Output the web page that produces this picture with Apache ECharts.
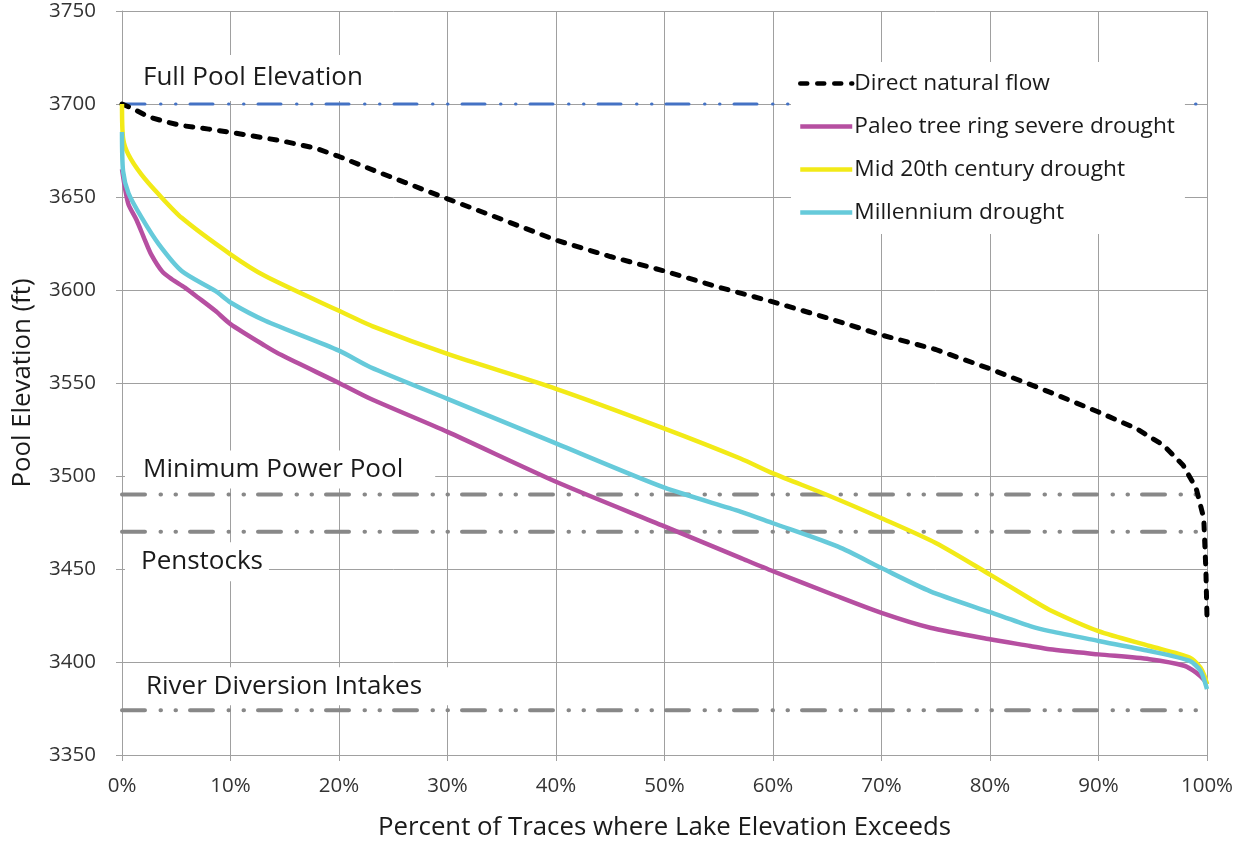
<!DOCTYPE html>
<html>
<head>
<meta charset="utf-8">
<script src="https://cdn.jsdelivr.net/npm/echarts@6/dist/echarts.min.js"></script>
<style>
html,body{margin:0;padding:0;background:#fff;}
#chart{width:1238px;height:846px;}
</style>
</head>
<body>
<div id="chart"></div>
<script>
// ---- Data ----
const seriesNames = ['Direct natural flow', 'Paleo tree ring severe drought', 'Mid 20th century drought', 'Millennium drought'];

const directX = [0, 1, 2.4, 4, 5.5, 8, 10, 14.7, 17.8, 20, 23.3, 26, 30, 35, 40, 45, 50, 55, 60, 65, 70, 75, 80, 85.5, 90, 93.5, 96, 97.8, 99, 99.7, 99.9, 100];
const directY = [3700, 3697.5, 3693.2, 3690.5, 3688.4, 3686.5, 3684.8, 3680.2, 3676.3, 3671.8, 3664.1, 3658, 3649, 3638, 3626.8, 3618, 3610.2, 3601.5, 3593.6, 3585, 3575.8, 3568, 3557.6, 3545.1, 3534.4, 3525.5, 3516.5, 3505.8, 3493.4, 3477.3, 3449, 3423.8];

const paleoX = [0, 0.3, 0.6, 1.35, 2.1, 2.7, 3.7, 4.6, 5.8, 7, 8.6, 10, 13.2, 14.7, 20, 22.9, 30, 40, 50, 57, 60, 65.5, 70, 74.5, 80, 83.7, 85.5, 90, 94.7, 97.9, 99, 99.8, 100];
const paleoY = [3665, 3654, 3646, 3637.5, 3627, 3619, 3610, 3605.8, 3601.3, 3596, 3588.8, 3581.7, 3570, 3565, 3550, 3541.5, 3523.7, 3496.9, 3472.9, 3456, 3448.8, 3436.3, 3426.4, 3418.4, 3412.2, 3408.6, 3406.8, 3404.1, 3401.5, 3398, 3394.3, 3390, 3388];

const mid20X = [0, 0.1, 0.6, 1.8, 3.4, 5.5, 10, 13.2, 20, 23.3, 30, 40, 50, 57, 60, 65, 70, 75, 80, 83.7, 85.5, 90, 94.7, 98.4, 99.4, 99.8, 100];
const mid20Y = [3700, 3681.6, 3672.7, 3662, 3651.3, 3638.8, 3619.2, 3607.5, 3588.8, 3580, 3565.6, 3546.9, 3525.5, 3509.4, 3501.4, 3489.8, 3477.3, 3464, 3447, 3434, 3428, 3416.6, 3408.6, 3402.4, 3397, 3392, 3388];

const millX = [0, 0.1, 0.6, 1.8, 3.4, 5.5, 8.6, 10, 13.2, 20, 22.9, 30, 40, 50, 57, 60, 66, 70, 74.5, 80, 83.7, 85.5, 90, 94.7, 98.4, 99.4, 100];
const millY = [3685, 3663.8, 3652, 3639, 3624.5, 3610.2, 3599.5, 3593.3, 3583.5, 3567.4, 3558.5, 3541.5, 3517.5, 3493.7, 3480.9, 3474.6, 3462, 3450.5, 3438, 3426.8, 3419.3, 3416.6, 3411.3, 3405.9, 3400.6, 3395.2, 3385.4];

// Reference elevations
const refNames = ['Full Pool Elevation', 'Minimum Power Pool', 'Penstocks', 'River Diversion Intakes'];
const refLevels = [3700, 3490, 3470, 3374];

// Axis settings
const yMin = 3350, yMax = 3750, yStep = 50;
const xMin = 0, xMax = 100, xStep = 10;

// ---- Chart ----
const zip = (xs, ys) => xs.map((x, i) => [x, ys[i]]);
const FONT = '"Open Sans"';
const TXT = '#1a1a1a';
const chart = echarts.init(document.getElementById('chart'), null, { renderer: 'canvas' });

const refDash = [23, 15.5, 0.5, 14.5, 0.5, 14];

function refSeries(level, color, width) {
  return {
    type: 'line',
    name: 'ref' + level,
    data: [[xMin, level], [xMax, level]],
    symbol: 'none',
    silent: true,
    z: 1,
    lineStyle: { color: color, width: width, type: refDash, cap: 'round' }
  };
}

const lineSeries = (name, data, color, extra) => Object.assign({
  type: 'line',
  name: name,
  data: data,
  symbol: 'none',
  showSymbol: false,
  smooth: 0.25,
  z: 3,
  lineStyle: { color: color, width: 4.5, join: 'round' },
  itemStyle: { color: color }
}, extra || {});

const option = {
  animation: false,
  backgroundColor: '#ffffff',
  grid: { left: 122, right: 31, top: 11, bottom: 89, containLabel: false },
  legend: {
    data: seriesNames,
    orient: 'vertical',
    left: 791,
    top: 62,
    padding: [9, 10, 9, 7],
    backgroundColor: '#ffffff',
    itemWidth: 52,
    itemHeight: 14,
    itemGap: 18,
    itemStyle: { opacity: 0 },
    lineStyle: { width: 4.5 },
    textStyle: { fontFamily: FONT, fontSize: 22.7, lineHeight: 25, color: TXT, padding: [0, 0, 0, -3] },
    z: 10
  },
  xAxis: {
    type: 'value',
    min: xMin, max: xMax, interval: xStep,
    name: 'Percent of Traces where Lake Elevation Exceeds',
    nameLocation: 'middle',
    nameGap: 60,
    nameTextStyle: { fontFamily: FONT, fontSize: 25.8, color: TXT },
    axisLine: { show: true, lineStyle: { color: '#a0a0a0', width: 1 } },
    axisTick: { show: true, length: 6, lineStyle: { color: '#a0a0a0' } },
    axisLabel: { formatter: '{value}%', margin: 21, fontFamily: FONT, fontSize: 20.5, color: '#333333' },
    splitLine: { show: true, lineStyle: { color: '#a0a0a0', width: 1 } }
  },
  yAxis: {
    type: 'value',
    min: yMin, max: yMax, interval: yStep,
    name: 'Pool Elevation (ft)',
    nameLocation: 'middle',
    nameGap: 86,
    nameTextStyle: { fontFamily: FONT, fontSize: 25.8, color: TXT },
    axisLine: { show: true, lineStyle: { color: '#a0a0a0', width: 1 } },
    axisTick: { show: true, length: 6, lineStyle: { color: '#a0a0a0' } },
    axisLabel: { margin: 26, fontFamily: FONT, fontSize: 20.5, color: '#333333', formatter: (v) => String(v) },
    splitLine: { show: true, lineStyle: { color: '#a0a0a0', width: 1 } }
  },
  series: [
    refSeries(refLevels[0], '#4472C4', 3),
    refSeries(refLevels[1], '#888888', 4),
    refSeries(refLevels[2], '#888888', 4),
    refSeries(refLevels[3], '#888888', 4),
    lineSeries(seriesNames[0], zip(directX, directY), '#000000', {
      smooth: false,
      lineStyle: { color: '#000000', width: 5, type: [7, 10], cap: 'round' }
    }),
    lineSeries(seriesNames[1], zip(paleoX, paleoY), '#B64FA1'),
    lineSeries(seriesNames[2], zip(mid20X, mid20Y), '#F2EA17'),
    lineSeries(seriesNames[3], zip(millX, millY), '#66CADA')
  ]
};

chart.setOption(option);

// Annotation labels (white boxes) anchored to the reference levels via the axis scale
const labelSpecs = [
  { dx: 3,  dy: -26, pad: [11, 20, 9, 18] },
  { dx: 3,  dy: -25, pad: [7, 32, 5, 18] },
  { dx: 3,  dy: 30,  pad: [6, 6, 7, 16] },
  { dx: 10, dy: -24, pad: [7, 42, 5, 14] }
];
const graphics = refLevels.map((lvl, i) => {
  const p = chart.convertToPixel({ gridIndex: 0 }, [xMin, lvl]);
  const s = labelSpecs[i];
  return {
    type: 'text',
    x: p[0] + s.dx,
    y: p[1] + s.dy,
    z: 1,
    silent: true,
    style: {
      text: refNames[i],
      font: '26px ' + FONT,
      fill: TXT,
      backgroundColor: '#ffffff',
      padding: s.pad,
      align: 'left',
      verticalAlign: 'middle'
    }
  };
});
chart.setOption({ graphic: graphics });
</script>
</body>
</html>
